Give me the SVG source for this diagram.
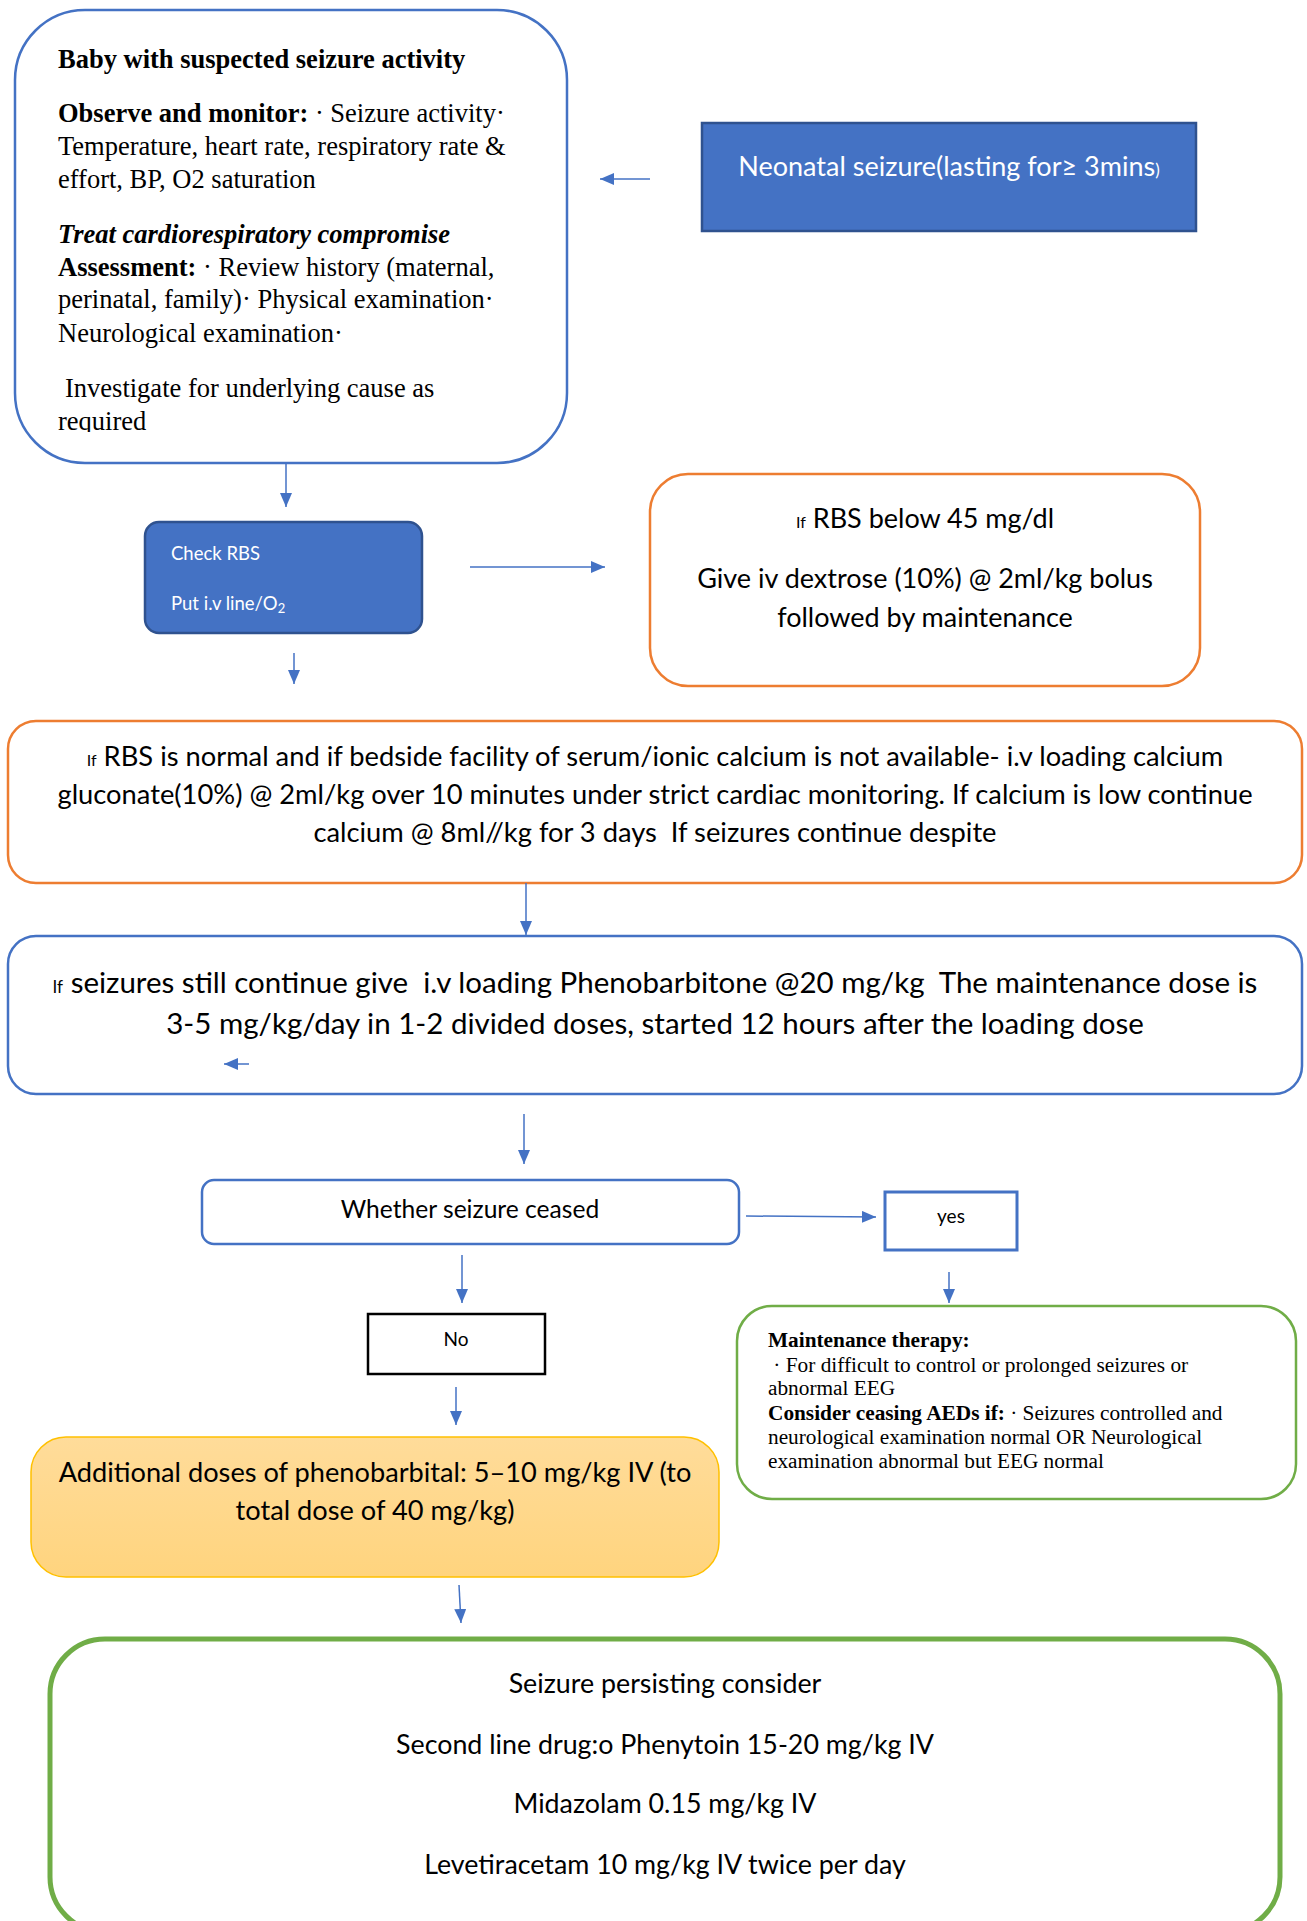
<svg xmlns="http://www.w3.org/2000/svg" width="1307" height="1921" viewBox="0 0 1307 1921">
  <style>
    .serif { font-family: "Liberation Serif", "Times New Roman", serif; fill: #000; }
    .sans { font-family: Lato, "Open Sans", "Liberation Sans", sans-serif; fill: #000; }
    .white { fill: #fff; }
    .c { text-anchor: middle; }
    .b { font-weight: bold; }
    .conn { stroke: #4472C4; stroke-width: 1.5; fill: none; marker-end: url(#arrow); }
    .blueBox { fill: #fff; stroke: #4472C4; stroke-width: 2.5; }
    .solidBlue { fill: #4472C4; stroke: #2F528F; stroke-width: 2.5; }
    .orangeBox { fill: #fff; stroke: #ED7D31; stroke-width: 2.5; }
    .greenBox { fill: #fff; stroke: #70AD47; stroke-width: 2.5; }
  </style>
  <defs>
    <marker id="arrow" markerUnits="userSpaceOnUse" markerWidth="14" markerHeight="12" viewBox="0 0 14 12" refX="14" refY="6" orient="auto">
      <path d="M0,0 L14,6 L0,12 z" fill="#4472C4"/>
    </marker>
    <linearGradient id="yellowFill" x1="0" y1="0" x2="0" y2="1">
      <stop offset="0" stop-color="#FFDC9A"/>
      <stop offset="1" stop-color="#FFD47E"/>
    </linearGradient>
    <clipPath id="startClip">
      <rect x="15" y="10" width="552" height="422"/>
    </clipPath>
  </defs>

  <rect width="1307" height="1921" fill="#fff"/>

  <!-- Start: suspected seizure -->
  <g id="node-start">
    <rect class="blueBox" x="15" y="10" width="552" height="453" rx="70"/>
    <g clip-path="url(#startClip)" font-size="26.5">
      <text class="serif b" x="58" y="68">Baby with suspected seizure activity</text>
      <text class="serif" x="58" y="122"><tspan class="b">Observe and monitor:</tspan> · Seizure activity·</text>
      <text class="serif" x="58" y="155">Temperature, heart rate, respiratory rate &amp;</text>
      <text class="serif" x="58" y="188">effort, BP, O2 saturation</text>
      <text class="serif b" x="58" y="243" font-style="italic">Treat cardiorespiratory compromise</text>
      <text class="serif" x="58" y="276"><tspan class="b">Assessment:</tspan> · Review history (maternal,</text>
      <text class="serif" x="58" y="308">perinatal, family)· Physical examination·</text>
      <text class="serif" x="58" y="342">Neurological examination·</text>
      <text class="serif" x="65" y="397">Investigate for underlying cause as</text>
      <text class="serif" x="58" y="430">required</text>
    </g>
  </g>

  <!-- Trigger -->
  <g id="node-trigger">
    <rect class="solidBlue" x="702" y="123" width="494" height="108"/>
    <text class="sans white c" x="949" y="176" font-size="27">Neonatal seizure(lasting for≥ 3mins<tspan font-size="17">)</tspan></text>
  </g>

  <!-- Check RBS -->
  <g id="node-check">
    <rect class="solidBlue" x="145" y="522" width="277" height="111" rx="14"/>
    <text class="sans white" x="171" y="560" font-size="18.5">Check RBS</text>
    <text class="sans white" x="171" y="610" font-size="18.5">Put i.v line/O<tspan font-size="13" dy="3">2</tspan></text>
  </g>

  <!-- Low RBS -->
  <g id="node-low-rbs">
    <rect class="orangeBox" x="650" y="474" width="550" height="212" rx="38"/>
    <text class="sans c" x="925" y="528" font-size="27"><tspan font-size="16">If</tspan> RBS below 45 mg/dl</text>
    <text class="sans c" x="925" y="588" font-size="27">Give iv dextrose (10%) @ 2ml/kg bolus</text>
    <text class="sans c" x="925" y="627" font-size="27">followed by maintenance</text>
  </g>

  <!-- Calcium -->
  <g id="node-calcium">
    <rect class="orangeBox" x="8" y="721" width="1294" height="162" rx="28"/>
    <text class="sans c" x="655" y="766" font-size="27.3"><tspan font-size="16">If</tspan> RBS is normal and if bedside facility of serum/ionic calcium is not available- i.v loading calcium</text>
    <text class="sans c" x="655" y="804" font-size="27.3">gluconate(10%) @ 2ml/kg over 10 minutes under strict cardiac monitoring. If calcium is low continue</text>
    <text class="sans c" x="655" y="842" font-size="27.3" xml:space="preserve">calcium @ 8ml//kg for 3 days  If seizures continue despite</text>
  </g>

  <!-- Phenobarbitone -->
  <g id="node-pheno">
    <rect class="blueBox" x="8" y="936" width="1294" height="158" rx="28"/>
    <text class="sans c" x="655" y="993" font-size="29.5" xml:space="preserve"><tspan font-size="17">If</tspan> seizures still continue give  i.v loading Phenobarbitone @20 mg/kg  The maintenance dose is</text>
    <text class="sans c" x="655" y="1034" font-size="29.5">3-5 mg/kg/day in 1-2 divided doses, started 12 hours after the loading dose</text>
  </g>

  <!-- Decision -->
  <g id="node-ceased">
    <rect class="blueBox" x="202" y="1180" width="537" height="64" rx="12"/>
    <text class="sans c" x="470" y="1218" font-size="24.6">Whether seizure ceased</text>
  </g>

  <g id="node-yes">
    <rect x="885" y="1192" width="132" height="58" fill="#fff" stroke="#4472C4" stroke-width="3"/>
    <text class="sans c" x="951" y="1223" font-size="19">yes</text>
  </g>

  <g id="node-no">
    <rect x="368" y="1314" width="177" height="60" fill="#fff" stroke="#000" stroke-width="2.5"/>
    <text class="sans c" x="456" y="1346" font-size="19">No</text>
  </g>

  <!-- Maintenance -->
  <g id="node-maintenance">
    <rect class="greenBox" x="737" y="1306" width="559" height="193" rx="35"/>
    <g font-size="21.3">
      <text class="serif b" x="768" y="1347">Maintenance therapy:</text>
      <text class="serif" x="768" y="1372" xml:space="preserve"> · For difficult to control or prolonged seizures or</text>
      <text class="serif" x="768" y="1395">abnormal EEG</text>
      <text class="serif" x="768" y="1420"><tspan class="b">Consider ceasing AEDs if:</tspan> · Seizures controlled and</text>
      <text class="serif" x="768" y="1444">neurological examination normal OR Neurological</text>
      <text class="serif" x="768" y="1468">examination abnormal but EEG normal</text>
    </g>
  </g>

  <!-- Additional doses -->
  <g id="node-additional">
    <rect x="31" y="1437" width="688" height="140" rx="35" fill="url(#yellowFill)" stroke="#FFC000" stroke-width="1.5"/>
    <text class="sans c" x="375" y="1482" font-size="27.2">Additional doses of phenobarbital: 5–10 mg/kg IV (to</text>
    <text class="sans c" x="375" y="1520" font-size="27.2">total dose of 40 mg/kg)</text>
  </g>

  <!-- Second line -->
  <g id="node-second-line">
    <rect x="50" y="1639" width="1230" height="293" rx="55" fill="#fff" stroke="#70AD47" stroke-width="5"/>
    <text class="sans c" x="665" y="1693" font-size="26.8">Seizure persisting consider</text>
    <text class="sans c" x="665" y="1754" font-size="26.8">Second line drug:o Phenytoin 15-20 mg/kg IV</text>
    <text class="sans c" x="665" y="1813" font-size="26.8">Midazolam 0.15 mg/kg IV</text>
    <text class="sans c" x="665" y="1874" font-size="26.8">Levetiracetam 10 mg/kg IV twice per day</text>
  </g>

  <!-- Connectors -->
  <g id="connectors">
    <path class="conn" d="M650,179 L600,179"/>
    <path class="conn" d="M286,463 L286,507"/>
    <path class="conn" d="M470,567 L605,567"/>
    <path class="conn" d="M294,653 L294,684"/>
    <path class="conn" d="M526,883 L526,935"/>
    <path class="conn" d="M249,1064 L224,1064"/>
    <path class="conn" d="M524,1114 L524,1164"/>
    <path class="conn" d="M746,1216 L876,1217"/>
    <path class="conn" d="M949,1272 L949,1303"/>
    <path class="conn" d="M462,1255 L462,1303"/>
    <path class="conn" d="M456,1387 L456,1425"/>
    <path class="conn" d="M459,1585 L461,1623"/>
  </g>
</svg>
